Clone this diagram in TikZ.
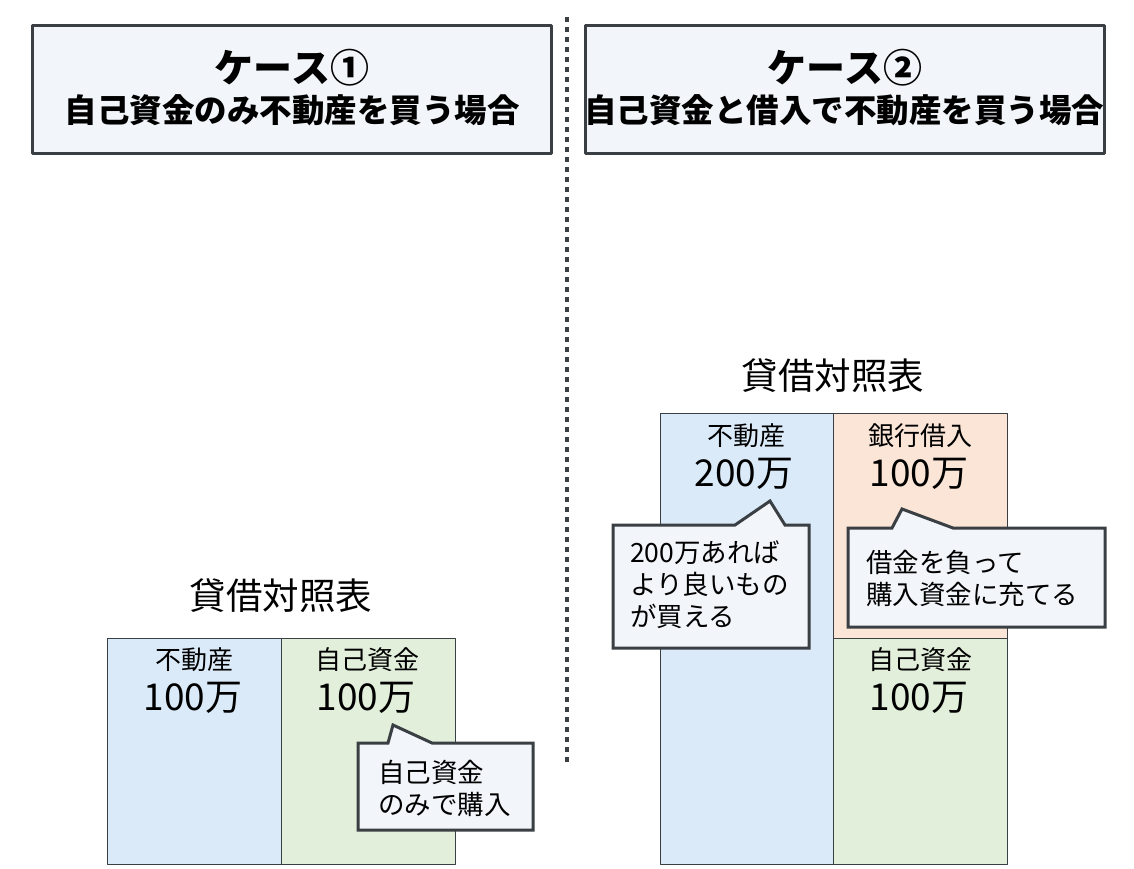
\documentclass[tikz,border=0pt]{standalone}
\usepackage{fontspec}
\setmainfont{Noto Sans CJK JP}
\usetikzlibrary{positioning}
\definecolor{edge}{HTML}{3A3F44}
\definecolor{paper}{HTML}{F2F5F9}
\definecolor{asset}{HTML}{DAEAF8}
\definecolor{equity}{HTML}{E2EFDA}
\definecolor{loan}{HTML}{FAE5D7}
\tikzset{
  hdr/.style={draw=edge,line width=3pt,fill=paper,minimum width=519,minimum height=128},
  cell/.style={draw=edge,line width=1.2pt,anchor=north west,minimum width=174},
  note/.style={draw=edge,line width=3pt,fill=paper,line join=miter},
  ttl/.style={font=\fontsize{39}{42}\selectfont\bfseries},
  sub/.style={font=\fontsize{32.5}{36}\selectfont\bfseries},
  capt/.style={font=\fontsize{36.5}{40}\selectfont},
  item/.style={font=\fontsize{26}{30}\selectfont},
  amt/.style={font=\fontsize{37}{40}\selectfont},
  notetext/.style={font=\fontsize{26.5}{32}\selectfont,align=left,anchor=north west,inner sep=0pt}
}
\begin{document}
\begin{tikzpicture}[x=1pt,y=-1pt,line join=round]
\useasboundingbox[fill=white] (0,0) rectangle (1134,868);
% --- headers and the dotted divider
\node[hdr] (case1) at (291.5,89) {};
\node[hdr] (case2) at (844.5,89) {};
\node[ttl] (t1) at (292,68) {ケース①};
\node[sub] (s1) at (292,110) {自己資金のみ不動産を買う場合};
\node[ttl] (t2) at (845,68) {ケース②};
\node[sub] (s2) at (844,110) {自己資金と借入で不動産を買う場合};
\coordinate (dtop) at (567,17); \coordinate (dbot) at (567,767);
\draw[edge,line width=4.5pt,dash pattern=on 4.5pt off 5.5pt] (dtop) -- (dbot);
% --- case 1: balance sheet
\node[capt] (bs1) at (281,596) {貸借対照表};
\node[cell,fill=asset,minimum height=226] (a1) at (107,638) {};
\node[cell,fill=equity,minimum height=226] (e1) at (281,638) {};
\node[item] (a1n) at (194,660) {不動産};
\node[amt] (a1v) at (193,698) {100万};
\node[item] (e1n) at (367,660) {自己資金};
\node[amt] (e1v) at (366,698) {100万};
\draw[note] (358,743) -- (388,743) -- (393,725) -- (432,743) -- (533,743) -- (533,830) -- (358,830) -- cycle;
\node[notetext] (n1) at (378,760) {自己資金\\のみで購入};
% --- case 2: balance sheet
\node[capt] (bs2) at (833,376) {貸借対照表};
\node[cell,fill=asset,minimum height=451] (a2) at (660,413) {};
\node[cell,fill=loan,minimum height=225] (l2) at (833,413) {};
\node[cell,fill=equity,minimum height=226] (e2) at (833,638) {};
\node[item] (a2n) at (746,436) {不動産};
\node[amt] (a2v) at (744,474) {200万};
\node[item] (l2n) at (920,436) {銀行借入};
\node[amt] (l2v) at (919,474) {100万};
\node[item] (e2n) at (920,660) {自己資金};
\node[amt] (e2v) at (919,698) {100万};
\draw[note] (613,525) -- (735,525) -- (770,501) -- (785,525) -- (809,525) -- (809,648) -- (613,648) -- cycle;
\node[notetext] (n2) at (630,540) {200万あれば\\より良いもの\\が買える};
\draw[note] (848,528) -- (892,528) -- (902,509) -- (953,528) -- (1105,528) -- (1105,627) -- (848,627) -- cycle;
\node[notetext] (n3) at (866,550) {借金を負って\\購入資金に充てる};
\end{tikzpicture}
\end{document}
